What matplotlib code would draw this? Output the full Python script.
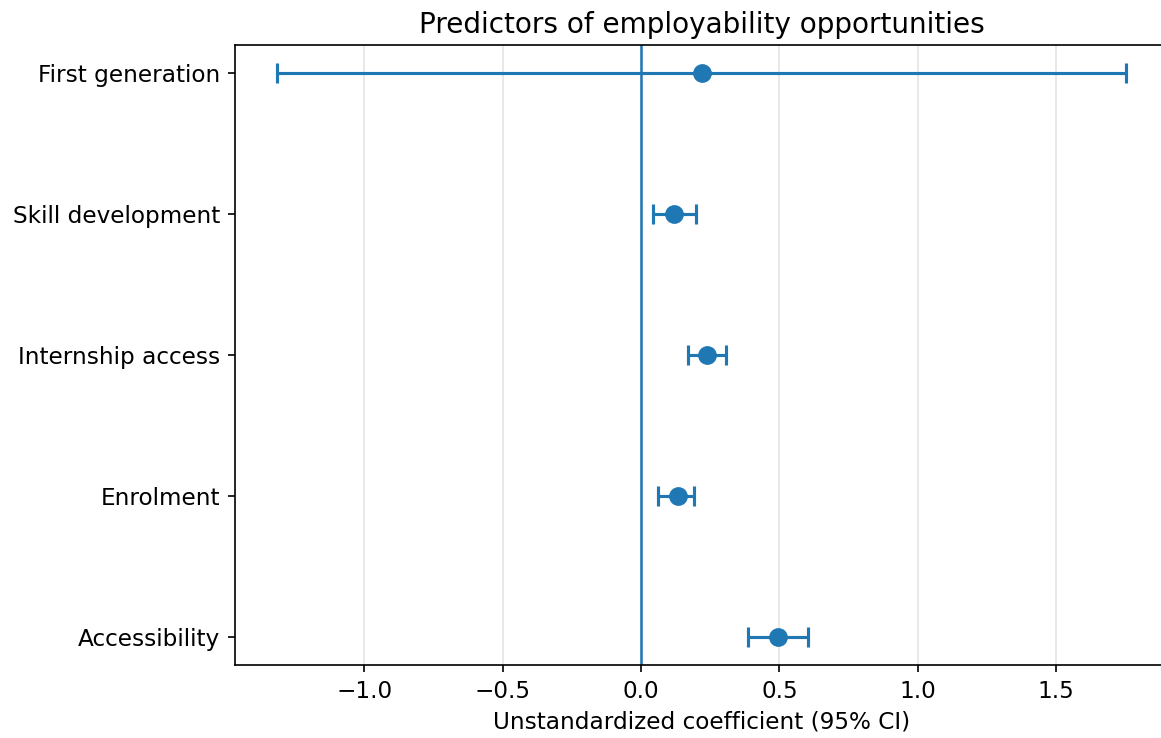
import matplotlib
matplotlib.use("Agg")
import matplotlib.pyplot as plt

predictors = ["First generation", "Skill development", "Internship access", "Enrolment", "Accessibility"]
coef = [0.219, 0.120, 0.240, 0.133, 0.496]
ci_low = [-1.314, 0.042, 0.171, 0.063, 0.386]
ci_high = [1.752, 0.198, 0.307, 0.193, 0.602]

plt.rcParams["font.size"] = 11.1

fig = plt.figure(figsize=(1161 / 150, 738 / 150), dpi=150)
ax = fig.add_axes([0.2022, 0.0989, 1.0063 - 0.2022, 0.939 - 0.0989])

ypos = list(range(len(predictors)))[::-1]
xerr = [[c - lo for c, lo in zip(coef, ci_low)], [hi - c for c, hi in zip(coef, ci_high)]]
ax.errorbar(coef, ypos, xerr=xerr, fmt="o", color="C0", markersize=8,
            capsize=5, elinewidth=1.5, capthick=1.5, zorder=3)
ax.axvline(0, color="C0", linewidth=1.2, zorder=2)

ax.set_yticks(ypos)
ax.set_yticklabels(predictors)
ax.tick_params(labelsize=11.1)
ax.set_xlabel("Unstandardized coefficient (95% CI)", fontsize=11.1)
ax.set_title("Predictors of employability opportunities", fontsize=13.4)
ax.grid(axis="x", color="lightgray", alpha=0.6, linewidth=0.8)
ax.set_axisbelow(True)

fig.savefig("out.png", dpi=150)
